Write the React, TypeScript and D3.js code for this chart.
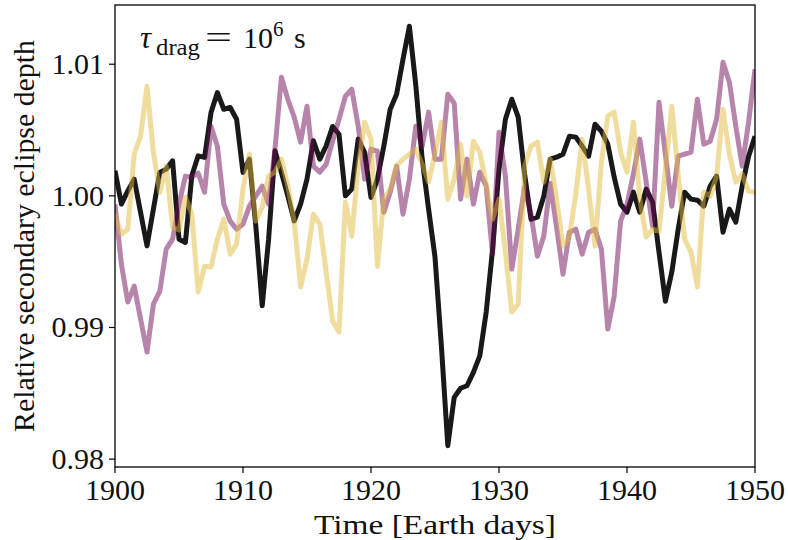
import React from 'react';
import * as d3 from 'd3';

const xTicks = [1900, 1910, 1920, 1930, 1940, 1950];
const xTickLabels = ['1900', '1910', '1920', '1930', '1940', '1950'];
const yTicks = [0.98, 0.99, 1.0, 1.01];
const yTickLabels = ['0.98', '0.99', '1.00', '1.01'];

// sampling every half Earth day from 1900 to 1950
const time = d3.range(101).map((i) => 1900 + i * 0.5);

const blackSeries = [
  1.0019, 0.99937, 1.00038, 1.00127, 0.99874, 0.9962, 0.99899, 1.00178, 1.00203, 1.00266,
  0.99671, 0.99646, 1.00152, 1.00304, 1.00292, 1.00633, 1.00785, 1.00658, 1.00671, 1.00582,
  1.00178, 1.00279, 0.99772, 0.99165, 0.99671, 1.00342, 1.00178, 1.0, 0.9981, 0.99937,
  1.00127, 1.00418, 1.00279, 1.0038, 1.00527, 1.00468, 1.0, 1.00051, 1.00431, 1.0033,
  0.99988, 1.00127, 1.00377, 1.00658, 1.00772, 1.01038, 1.01289, 1.00841, 1.00279, 0.99899,
  0.99535, 0.98859, 0.98102, 0.98469, 0.98538, 0.98557, 0.98659, 0.98785, 0.99117, 0.99595,
  1.00203, 1.00582, 1.00734, 1.00598, 1.00165, 0.99823, 0.99838, 0.99998, 1.00279, 1.00294,
  1.00317, 1.00453, 1.00446, 1.00377, 1.00301, 1.00544, 1.00491, 1.00393, 1.00142, 0.99937,
  0.99876, 1.00028, 0.99876, 1.00051, 0.99952, 0.99573, 0.992, 0.99421, 0.99747, 1.00028,
  0.99975, 0.99967, 0.99922, 1.00074, 1.0015, 0.99724, 0.99899, 0.998, 1.00074, 1.00301,
  1.00453,
];

const purpleSeries = [
  0.99937, 0.99481, 0.99193, 0.99314, 0.99064, 0.98813, 0.99178, 0.99276, 0.99595, 0.99671,
  0.99937, 1.0015, 1.00142, 1.00172, 1.00028, 1.00529, 1.00377, 0.99937, 0.99808, 0.99747,
  0.99785, 0.99922, 0.99998, 1.00074, 0.99937, 1.00355, 1.00901, 1.00734, 1.00598, 1.00408,
  1.00681, 1.00226, 1.0018, 1.00241, 1.00415, 1.00582, 1.00757, 1.0081, 1.00529, 1.00127,
  1.00355, 1.00339, 0.99876, 1.00028, 1.00226, 0.99861, 1.00127, 1.00529, 1.00377, 1.00636,
  1.00279, 1.00279, 1.00772, 1.00704, 0.99975, 1.00279, 0.99937, 1.0018, 1.00074, 0.99557,
  1.00484, 1.0015, 0.99443, 0.99747, 1.00066, 0.99861, 0.99542, 0.99694, 1.00096, 0.99762,
  0.99405, 0.99724, 0.99747, 0.99557, 0.99724, 0.99747, 0.99595, 0.98988, 0.99238, 0.99808,
  0.99937, 1.00165, 1.00431, 1.00104, 0.9977, 1.00711, 1.00317, 0.99922, 1.00301, 1.00317,
  1.00332, 1.00734, 1.00393, 1.00415, 1.00582, 1.01015, 1.00863, 1.00529, 1.00226, 1.0056,
  1.00962,
];

const goldSeries = [
  0.99861, 0.99709, 0.99747, 1.00317, 1.00453, 1.00833, 1.00332, 1.00028, 1.00226, 0.99762,
  0.9974, 0.9999, 0.99861, 0.99269, 0.99466, 0.99459, 0.99671, 0.99823, 0.99557, 0.99633,
  1.00051, 1.00317, 0.99808, 0.99914, 1.0015, 1.0018, 1.00279, 1.00074, 0.99808, 0.99307,
  0.99519, 0.99861, 0.99785, 0.99421, 0.99049, 0.98965, 0.99952, 0.99694, 1.00226, 1.0056,
  1.00431, 0.99466, 0.99975, 1.00051, 1.00226, 1.00279, 1.00317, 1.00355, 1.00241, 1.00104,
  1.00317, 1.0056, 0.99975, 1.00127, 1.00393, 0.99998, 1.00415, 1.00332, 1.00089, 0.99823,
  0.99975, 0.99573, 0.99117, 0.99178, 1.00226, 1.00377, 1.00408, 1.00104, 1.00279, 0.99975,
  0.99618, 0.99686, 1.00013, 1.00431, 1.00051, 0.99618, 1.00256, 1.00605, 1.00636, 1.00332,
  1.0018, 1.0056, 0.99975, 0.99686, 0.99747, 0.99732, 1.00203, 1.00681, 1.00165, 0.99671,
  0.99573, 0.99307, 1.00028, 0.99998, 1.0015, 1.00658, 1.00317, 1.00104, 1.00165, 1.00036,
  1.00028,
];

const FONT = 'Liberation Serif, Times New Roman, serif';

export default function App() {
  const W = 788;
  const H = 540;
  const left = 115;
  const right = 755;
  const top = 5;
  const bottom = 467;

  const x = d3.scaleLinear().domain([1900, 1950]).range([left, right]);
  const y = d3.scaleLinear().domain([0.9794, 1.0145]).range([bottom, top]);

  const lineGen = d3
    .line<number>()
    .x((_, i) => x(time[i]))
    .y((d) => y(d));

  const series = [
    { vals: blackSeries, color: '#000000', opacity: 0.9 },
    { vals: purpleSeries, color: '#6f0c5a', opacity: 0.5 },
    { vals: goldSeries, color: '#e2bb3c', opacity: 0.5 },
  ];

  const txt = { fontFamily: FONT, fill: '#111' } as React.CSSProperties;

  return (
    <svg
      width={W}
      height={H}
      style={{ position: 'absolute', left: 0, top: 0, background: '#fff' }}
    >
      <defs>
        <clipPath id="plotclip">
          <rect x={left} y={top} width={right - left} height={bottom - top} />
        </clipPath>
      </defs>
      <rect x={0} y={0} width={W} height={H} fill="#fff" />
      <g clipPath="url(#plotclip)">
        {series.map((s, k) => (
          <path
            key={k}
            d={lineGen(s.vals) || ''}
            fill="none"
            stroke={s.color}
            strokeOpacity={s.opacity}
            strokeWidth={5}
            strokeLinejoin="round"
            strokeLinecap="butt"
          />
        ))}
      </g>
      <rect
        x={left}
        y={top}
        width={right - left}
        height={bottom - top}
        fill="none"
        stroke="#000"
        strokeWidth={1.3}
      />
      {xTicks.map((t, i) => (
        <g key={'xt' + i}>
          <line x1={x(t)} x2={x(t)} y1={bottom} y2={bottom + 6} stroke="#000" strokeWidth={1.2} />
          <text x={x(t)} y={bottom + 33} fontSize={30} textAnchor="middle" style={txt}>
            {xTickLabels[i]}
          </text>
        </g>
      ))}
      {yTicks.map((t, i) => (
        <g key={'yt' + i}>
          <line x1={left - 6} x2={left} y1={y(t)} y2={y(t)} stroke="#000" strokeWidth={1.2} />
          <text x={left - 11} y={y(t) + 10} fontSize={30} textAnchor="end" style={txt}>
            {yTickLabels[i]}
          </text>
        </g>
      ))}
      <text
        x={(left + right) / 2}
        y={534}
        fontSize={28}
        textAnchor="middle"
        style={txt}
        textLength={242}
        lengthAdjust="spacingAndGlyphs"
      >
        Time [Earth days]
      </text>
      <text
        transform={`translate(34, ${(top + bottom) / 2}) rotate(-90)`}
        fontSize={29}
        textAnchor="middle"
        style={txt}
        textLength={392}
        lengthAdjust="spacingAndGlyphs"
      >
        Relative secondary eclipse depth
      </text>
      <g>
        <text x={140} y={48} fontSize={31} fontStyle="italic" style={txt}>τ</text>
        <text x={156} y={55} fontSize={23} style={txt} textLength={44} lengthAdjust="spacingAndGlyphs">drag</text>
        <text x={205} y={48} fontSize={31} style={txt} textLength={27} lengthAdjust="spacingAndGlyphs">=</text>
        <text x={243} y={48} fontSize={30} style={txt}>10</text>
        <text x={273} y={36} fontSize={21} style={txt}>6</text>
        <text x={294} y={48} fontSize={30} style={txt}>s</text>
      </g>
    </svg>
  );
}
